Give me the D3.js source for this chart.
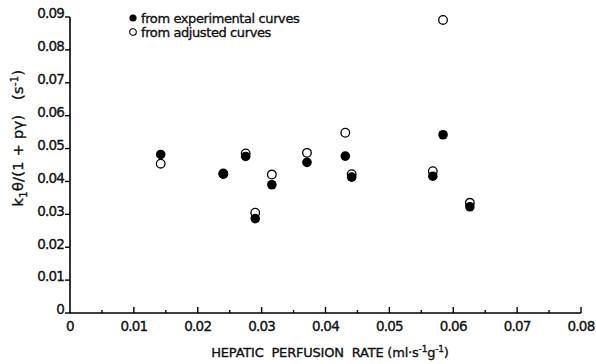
<!DOCTYPE html>
<html>
<head>
<meta charset="utf-8">
<script src="https://cdn.jsdelivr.net/npm/d3@7"></script>
<style>
  body { margin: 0; background: #fff; }
  text { font-family: "DejaVu Sans", sans-serif; fill: #111; stroke: #111; stroke-width: 0.35; }
</style>
</head>
<body>
<svg id="chart"></svg>
<script>
// perfusion rate (x) and the two estimates per experiment
var perfusion    = [0.0142, 0.0240, 0.0275, 0.0290, 0.0316, 0.0371, 0.0431, 0.0441, 0.0568, 0.0584, 0.0626];
var experimental = [0.0482, 0.0422, 0.0476, 0.0287, 0.0390, 0.0458, 0.0477, 0.0413, 0.0416, 0.0542, 0.0323];
var adjusted     = [0.0454, 0.0424, 0.0485, 0.0305, 0.0421, 0.0487, 0.0548, 0.0422, 0.0431, 0.0891, 0.0335];
var xTicks = [0, 0.01, 0.02, 0.03, 0.04, 0.05, 0.06, 0.07, 0.08];
var yTicks = [0, 0.01, 0.02, 0.03, 0.04, 0.05, 0.06, 0.07, 0.08, 0.09];

var w = 596, h = 364;
var margin = {top: 17, right: 15, bottom: 51, left: 70};
var width = w - margin.left - margin.right;
var height = h - margin.top - margin.bottom;

var x = d3.scaleLinear().domain([0, 0.08]).range([0, width]);
var y = d3.scaleLinear().domain([0, 0.09]).range([height, 0]);

var svg = d3.select("#chart").attr("width", w).attr("height", h);
var chart = svg.append("g")
    .attr("transform", "translate(" + margin.left + "," + margin.top + ")");

// x axis, ticks pointing up
var xAxis = chart.append("g").attr("transform", "translate(0," + height + ")");
xAxis.append("line").attr("x1", 0).attr("x2", width).attr("stroke", "#000").attr("stroke-width", 1.6);
var minor = d3.range(0.005, 0.08, 0.01);
xAxis.selectAll(".minor").data(minor).enter().append("line")
    .attr("x1", function(d){ return x(d); }).attr("x2", function(d){ return x(d); })
    .attr("y1", 0).attr("y2", -3).attr("stroke", "#000").attr("stroke-width", 1.4);
xAxis.selectAll(".major").data(xTicks.slice(1)).enter().append("line")
    .attr("x1", function(d){ return x(d); }).attr("x2", function(d){ return x(d); })
    .attr("y1", 0).attr("y2", -6).attr("stroke", "#000").attr("stroke-width", 1.4);
xAxis.selectAll(".lbl").data(xTicks).enter().append("text")
    .attr("x", function(d){ return x(d); }).attr("y", 18)
    .attr("text-anchor", "middle").attr("font-size", 13.5).attr("letter-spacing", -0.8)
    .text(function(d){ return d === 0 ? "0" : d.toFixed(2); });

// y axis, ticks pointing left
var yAxis = chart.append("g");
yAxis.append("line").attr("y1", 0).attr("y2", height).attr("stroke", "#000").attr("stroke-width", 1.6);
yAxis.selectAll(".major").data(yTicks).enter().append("line")
    .attr("y1", function(d){ return y(d); }).attr("y2", function(d){ return y(d); })
    .attr("x1", 0).attr("x2", -5).attr("stroke", "#000").attr("stroke-width", 1.4);
yAxis.selectAll(".lbl").data(yTicks).enter().append("text")
    .attr("x", -6).attr("y", function(d){ return y(d); }).attr("dy", "0.1em")
    .attr("text-anchor", "end").attr("font-size", 13.5).attr("letter-spacing", -0.8)
    .text(function(d){ return d === 0 ? "0" : d.toFixed(2); });

// points
var pts = perfusion.map(function(p, i){ return {x: p, e: experimental[i], a: adjusted[i]}; });
chart.selectAll(".adj").data(pts).enter().append("circle")
    .attr("cx", function(d){ return x(d.x); }).attr("cy", function(d){ return y(d.a); })
    .attr("r", 4.3).attr("fill", "#fff").attr("stroke", "#000").attr("stroke-width", 1.3);
chart.selectAll(".exp").data(pts).enter().append("circle")
    .attr("cx", function(d){ return x(d.x); }).attr("cy", function(d){ return y(d.e); })
    .attr("r", 4.8).attr("fill", "#000");

// legend
var legend = svg.append("g").attr("transform", "translate(133,18)");
legend.append("circle").attr("cx", 0).attr("cy", 0).attr("r", 3.6).attr("fill", "#000");
legend.append("circle").attr("cx", 0).attr("cy", 14).attr("r", 3.3).attr("fill", "#fff").attr("stroke", "#000").attr("stroke-width", 1.1);
legend.append("text").attr("x", 8).attr("y", 4.5).attr("font-size", 13).attr("letter-spacing", -0.4).text("from experimental curves");
legend.append("text").attr("x", 8).attr("y", 18.5).attr("font-size", 13).attr("letter-spacing", -0.4).text("from adjusted curves");

// axis titles
var xt = svg.append("text").attr("x", 330).attr("y", 357).attr("text-anchor", "middle")
    .attr("font-size", 13).attr("letter-spacing", -0.2);
xt.append("tspan").text("HEPATIC\u00a0\u00a0PERFUSION\u00a0\u00a0RATE (ml\u00b7s");
xt.append("tspan").attr("dy", -5).attr("font-size", 9).text("-1");
xt.append("tspan").attr("dy", 5).text("g");
xt.append("tspan").attr("dy", -5).attr("font-size", 9).text("-1");
xt.append("tspan").attr("dy", 5).text(")");

var yt = svg.append("text").attr("transform", "translate(23,138) rotate(-90)")
    .attr("text-anchor", "middle").attr("font-size", 14.5).attr("letter-spacing", 0.3);
yt.append("tspan").text("k");
yt.append("tspan").attr("dy", 4).attr("font-size", 10).text("1");
yt.append("tspan").attr("dy", -4).text("\u03b8/(1 + p\u03b3)\u00a0\u00a0\u00a0(s");
yt.append("tspan").attr("dy", -5).attr("font-size", 10).text("-1");
yt.append("tspan").attr("dy", 5).text(")");
</script>
</body>
</html>
